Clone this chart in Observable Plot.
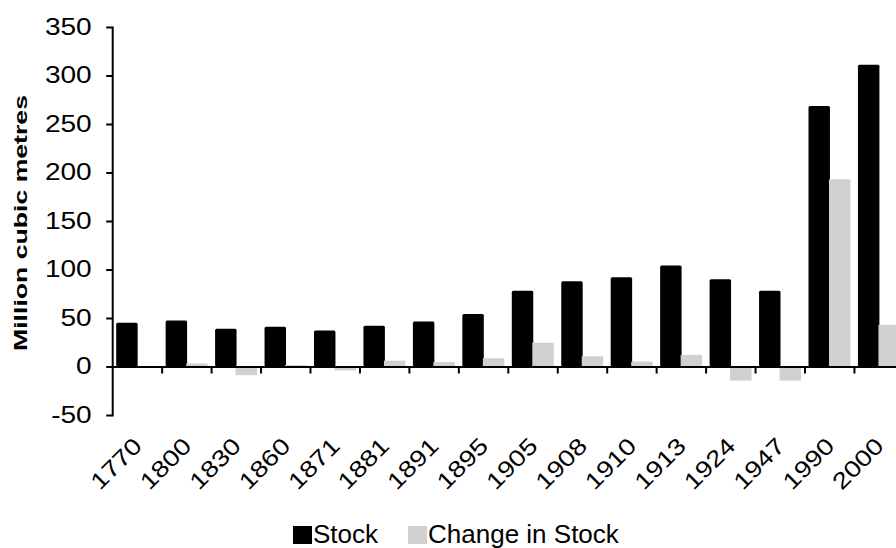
<!DOCTYPE html>
<html>
<head>
<meta charset="utf-8">
<script src="https://cdn.jsdelivr.net/npm/d3@7"></script>
<script src="https://cdn.jsdelivr.net/npm/@observablehq/plot@0.6"></script>
<style>
  html, body { margin: 0; padding: 0; background: #fff; }
  #wrap { position: relative; width: 896px; height: 548px; overflow: hidden; }
  #legend { position: absolute; left: 293px; top: 521px; height: 27px; display: flex; align-items: center;
            font-family: "Liberation Sans", Arial, sans-serif; font-size: 26px; color: #000; white-space: nowrap; }
  #legend .sw { display: inline-block; width: 19px; height: 18px; margin-right: 1px; }
</style>
</head>
<body>
<div id="wrap"><div id="chart"></div><div id="legend"></div></div>
<script>
const years = ["1770","1800","1830","1860","1871","1881","1891","1895","1905","1908","1910","1913","1924","1947","1990","2000"];
const stock = [45, 47.5, 39, 41, 37, 42, 46.5, 54, 78, 88, 92, 104, 90, 78, 268.5, 311];
const change = [null, 3, -9, 1.5, -4, 6, 4.5, 8.5, 24.5, 10.5, 5, 12, -14.5, -14.5, 193, 43];
const yTicks = [-50, 0, 50, 100, 150, 200, 250, 300, 350];
const yLabel = "Million cubic metres";
const seriesNames = ["Stock", "Change in Stock"];
const seriesColors = ["#000000", "#d0d0d0"];

const rows = years.map((year, i) => ({year, stock: stock[i], change: change[i]}));

const W = 896, H = 522;
const mL = 112.2, mR = -7.4;
const step = (W - mR - mL) / years.length;

const chart = Plot.plot({
  width: W, height: H,
  marginLeft: mL, marginRight: mR, marginTop: 27, marginBottom: 107,
  style: {fontFamily: "'Liberation Sans', Arial, sans-serif", fontSize: "23px", color: "#000", background: "#fff"},
  x: {domain: years, paddingInner: 0, paddingOuter: 0, round: false, axis: null},
  y: {domain: [-50, 350], axis: null},
  marks: [
    Plot.barY(rows, {x: "year", y: "stock", fill: seriesColors[0], insetLeft: 4, insetRight: 24, rx: 1.5}),
    Plot.barY(rows.filter(d => d.change != null), {x: "year", y: "change", fill: seriesColors[1], insetLeft: 24.5, insetRight: 3.5}),
    Plot.ruleY([0], {stroke: "#000", strokeWidth: 2}),
    Plot.ruleX(years.slice(1), {x: d => d, dx: -step / 2, y1: 0, y2: 0, insetBottom: -7, stroke: "#000", strokeWidth: 2}),
    Plot.frame({anchor: "left", stroke: "#000", strokeWidth: 2}),
    Plot.axisY({ticks: yTicks, tickSize: 6, tickPadding: 15, strokeWidth: 2, tickFormat: d => String(d), label: null}),
    Plot.axisX({tickSize: 0, tickPadding: 32, tickRotate: -45, textAnchor: "end", lineAnchor: "bottom", dx: 6, label: null}),
    Plot.text([yLabel], {text: d => d, frameAnchor: "left", dx: -86, dy: 1.5, rotate: -90, lineAnchor: "bottom", textAnchor: "middle", fontWeight: "bold", fontSize: 18})
  ]
});
document.getElementById("chart").appendChild(chart);

// stretch text horizontally along its baseline, as in the reference
function stretch(sel, sx) {
  chart.querySelectorAll(sel).forEach(t => {
    const xa = t.getAttribute("x");
    const x = xa && /^-?[\d.]+$/.test(xa) ? +xa : 0;
    const tr = t.getAttribute("transform") || "";
    t.setAttribute("transform", `${tr} translate(${x},0) scale(${sx},1) translate(${-x},0)`);
  });
}
stretch('g[aria-label="y-axis tick label"] text', 1.22);
stretch('g[aria-label="x-axis tick label"] text', 1.2);
stretch('g[aria-label="text"] text', 1.48);

// legend
const legend = document.getElementById("legend");
seriesNames.forEach((name, i) => {
  const sw = document.createElement("span");
  sw.className = "sw";
  sw.style.background = seriesColors[i];
  if (i > 0) sw.style.marginLeft = "30px";
  const lb = document.createElement("span");
  lb.textContent = name;
  legend.appendChild(sw);
  legend.appendChild(lb);
});
</script>
</body>
</html>
